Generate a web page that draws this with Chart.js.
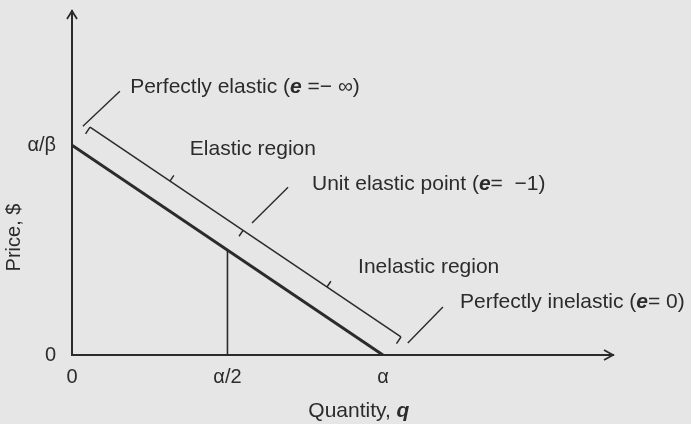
<!DOCTYPE html>
<html>
<head>
<meta charset="utf-8">
<script src="https://cdn.jsdelivr.net/npm/chart.js@4"></script>
<style>
  html, body { margin: 0; padding: 0; background: #e6e6e6; }
  #wrap { width: 691px; height: 424px; }
</style>
</head>
<body>
<div id="wrap"><canvas id="chart_elasticity"></canvas></div>
<script>
// axis ticks (alpha = 10 quantity units, alpha/beta = 10 price units)
const xTicks = [0, 5, 10];
const xTickLabels = ['0', 'α/2', 'α'];
const yTicks = [0, 10];
const yTickLabels = ['0', 'α/β'];

// demand line and the midpoint drop line
const demandQ = [0, 10];
const demandP = [10, 0];
const midQ = [5, 5];
const midP = [0, 5];

// bracket drawn parallel to demand
const bracketQ = [0.58, 10.58];
const bracketP = [10.86, 0.86];
const bracketMarkQ = [3.15, 5.5, 8.2];

// leader lines: q1, p1, q2, p2
const leaders = [
  [0.35, 10.9, 1.54, 12.57],
  [5.79, 6.29, 6.95, 8.0],
  [10.8, 0.57, 11.93, 2.29]
];

const FONT = "'Liberation Sans', Arial, sans-serif";
const INK = '#2b2b2b';

const notes = [
  { q: 1.87, p: 12.48, parts: [['Perfectly elastic (', 0], ['e', 1], [' =− ∞)', 0]] },
  { q: 3.79, p: 9.52, parts: [['Elastic region', 0]] },
  { q: 7.72, p: 7.86, parts: [['Unit elastic point (', 0], ['e', 1], ['=  −1)', 0]] },
  { q: 9.2, p: 3.9, parts: [['Inelastic region', 0]] },
  { q: 12.48, p: 2.24, parts: [['Perfectly inelastic (', 0], ['e', 1], ['= 0)', 0]] },
  { q: 7.6, p: -2.95, parts: [['Quantity, ', 0], ['q', 1]] }
];
const markDir = [1, -1, 1];

function pts(xs, ys) { return xs.map((x, i) => ({ x: x, y: ys[i] })); }

const lineDs = (data, width) => ({
  data: data, showLine: true, borderColor: INK, borderWidth: width,
  pointRadius: 0, fill: false, borderCapStyle: 'butt'
});

const datasets = [
  lineDs(pts(demandQ, demandP), 3),
  lineDs(pts(midQ, midP), 1.6),
  lineDs(pts(bracketQ, bracketP), 1.5)
].concat(leaders.map(l => lineDs([{ x: l[0], y: l[1] }, { x: l[2], y: l[3] }], 1.4)));

function drawParts(ctx, parts, x, y) {
  parts.forEach(p => {
    ctx.font = (p[1] ? 'italic bold ' : '') + '21px ' + FONT;
    ctx.fillText(p[0], x, y);
    x += ctx.measureText(p[0]).width;
  });
}

const decor = {
  id: 'decor',
  beforeDraw: (chart) => {
    const ctx = chart.ctx;
    ctx.save();
    ctx.fillStyle = '#e6e6e6';
    ctx.fillRect(0, 0, chart.width, chart.height);
    ctx.restore();
  },
  afterDatasetsDraw: (chart) => {
    const ctx = chart.ctx;
    const xs = chart.scales.x, ys = chart.scales.y;
    const a = chart.chartArea;
    ctx.save();
    ctx.strokeStyle = INK;
    ctx.lineWidth = 1.8;
    // arrow heads
    ctx.beginPath();
    ctx.moveTo(a.right - 9, a.bottom - 5); ctx.lineTo(a.right, a.bottom); ctx.lineTo(a.right - 9, a.bottom + 5);
    ctx.moveTo(a.left - 5, a.top + 8); ctx.lineTo(a.left, a.top); ctx.lineTo(a.left + 5, a.top + 8);
    ctx.stroke();

    // bracket marks
    const p0x = xs.getPixelForValue(bracketQ[0]), p0y = ys.getPixelForValue(bracketP[0]);
    const p1x = xs.getPixelForValue(bracketQ[1]), p1y = ys.getPixelForValue(bracketP[1]);
    const len = Math.hypot(p1x - p0x, p1y - p0y);
    const ux = (p1x - p0x) / len, uy = (p1y - p0y) / len;
    const nx = uy, ny = -ux; // away from the demand line
    ctx.lineWidth = 1.5;
    ctx.beginPath();
    [[p0x, p0y], [p1x, p1y]].forEach(p => {
      ctx.moveTo(p[0], p[1]); ctx.lineTo(p[0] - nx * 8, p[1] - ny * 8);
    });
    bracketMarkQ.forEach((q, i) => {
      const t = (xs.getPixelForValue(q) - p0x) / (p1x - p0x);
      const bx = p0x + t * (p1x - p0x), by = p0y + t * (p1y - p0y);
      ctx.moveTo(bx, by); ctx.lineTo(bx + nx * 7 * markDir[i], by + ny * 7 * markDir[i]);
    });
    ctx.stroke();

    // texts
    ctx.fillStyle = INK;
    ctx.textBaseline = 'alphabetic';
    ctx.textAlign = 'left';
    notes.forEach(n => drawParts(ctx, n.parts, xs.getPixelForValue(n.q), ys.getPixelForValue(n.p)));

    // y title
    ctx.save();
    ctx.translate(20, ys.getPixelForValue(5.6));
    ctx.rotate(-Math.PI / 2);
    ctx.textAlign = 'center';
    ctx.font = '20px ' + FONT;
    ctx.fillText('Price, $', 0, 0);
    ctx.restore();
    ctx.restore();
  }
};

new Chart(document.getElementById('chart_elasticity'), {
  type: 'scatter',
  data: { datasets: datasets },
  options: {
    animation: false,
    responsive: true,
    maintainAspectRatio: false,
    layout: { padding: { left: 0, right: 78, top: 11, bottom: 0 } },
    plugins: { legend: { display: false }, tooltip: { enabled: false } },
    scales: {
      x: {
        type: 'linear', min: 0, max: 17.4,
        grid: { display: false, drawTicks: false },
        border: { display: true, color: INK, width: 2 },
        afterFit: (s) => { s.height = 69; s.paddingLeft = 0; s.paddingRight = 0; },
        afterBuildTicks: (s) => { s.ticks = xTicks.map(v => ({ value: v })); },
        ticks: {
          padding: 10, color: INK, font: { family: FONT, size: 20 }, maxRotation: 0,
          callback: (v) => xTickLabels[xTicks.indexOf(v)]
        }
      },
      y: {
        type: 'linear', min: 0, max: 16.4,
        grid: { display: false, drawTicks: false },
        border: { display: true, color: INK, width: 2 },
        afterFit: (s) => { s.width = 72; s.paddingTop = 0; s.paddingBottom = 0; },
        afterBuildTicks: (s) => { s.ticks = yTicks.map(v => ({ value: v })); },
        ticks: {
          padding: 16, color: INK, font: { family: FONT, size: 20 },
          callback: (v) => yTickLabels[yTicks.indexOf(v)]
        }
      }
    }
  },
  plugins: [decor]
});
</script>
</body>
</html>
